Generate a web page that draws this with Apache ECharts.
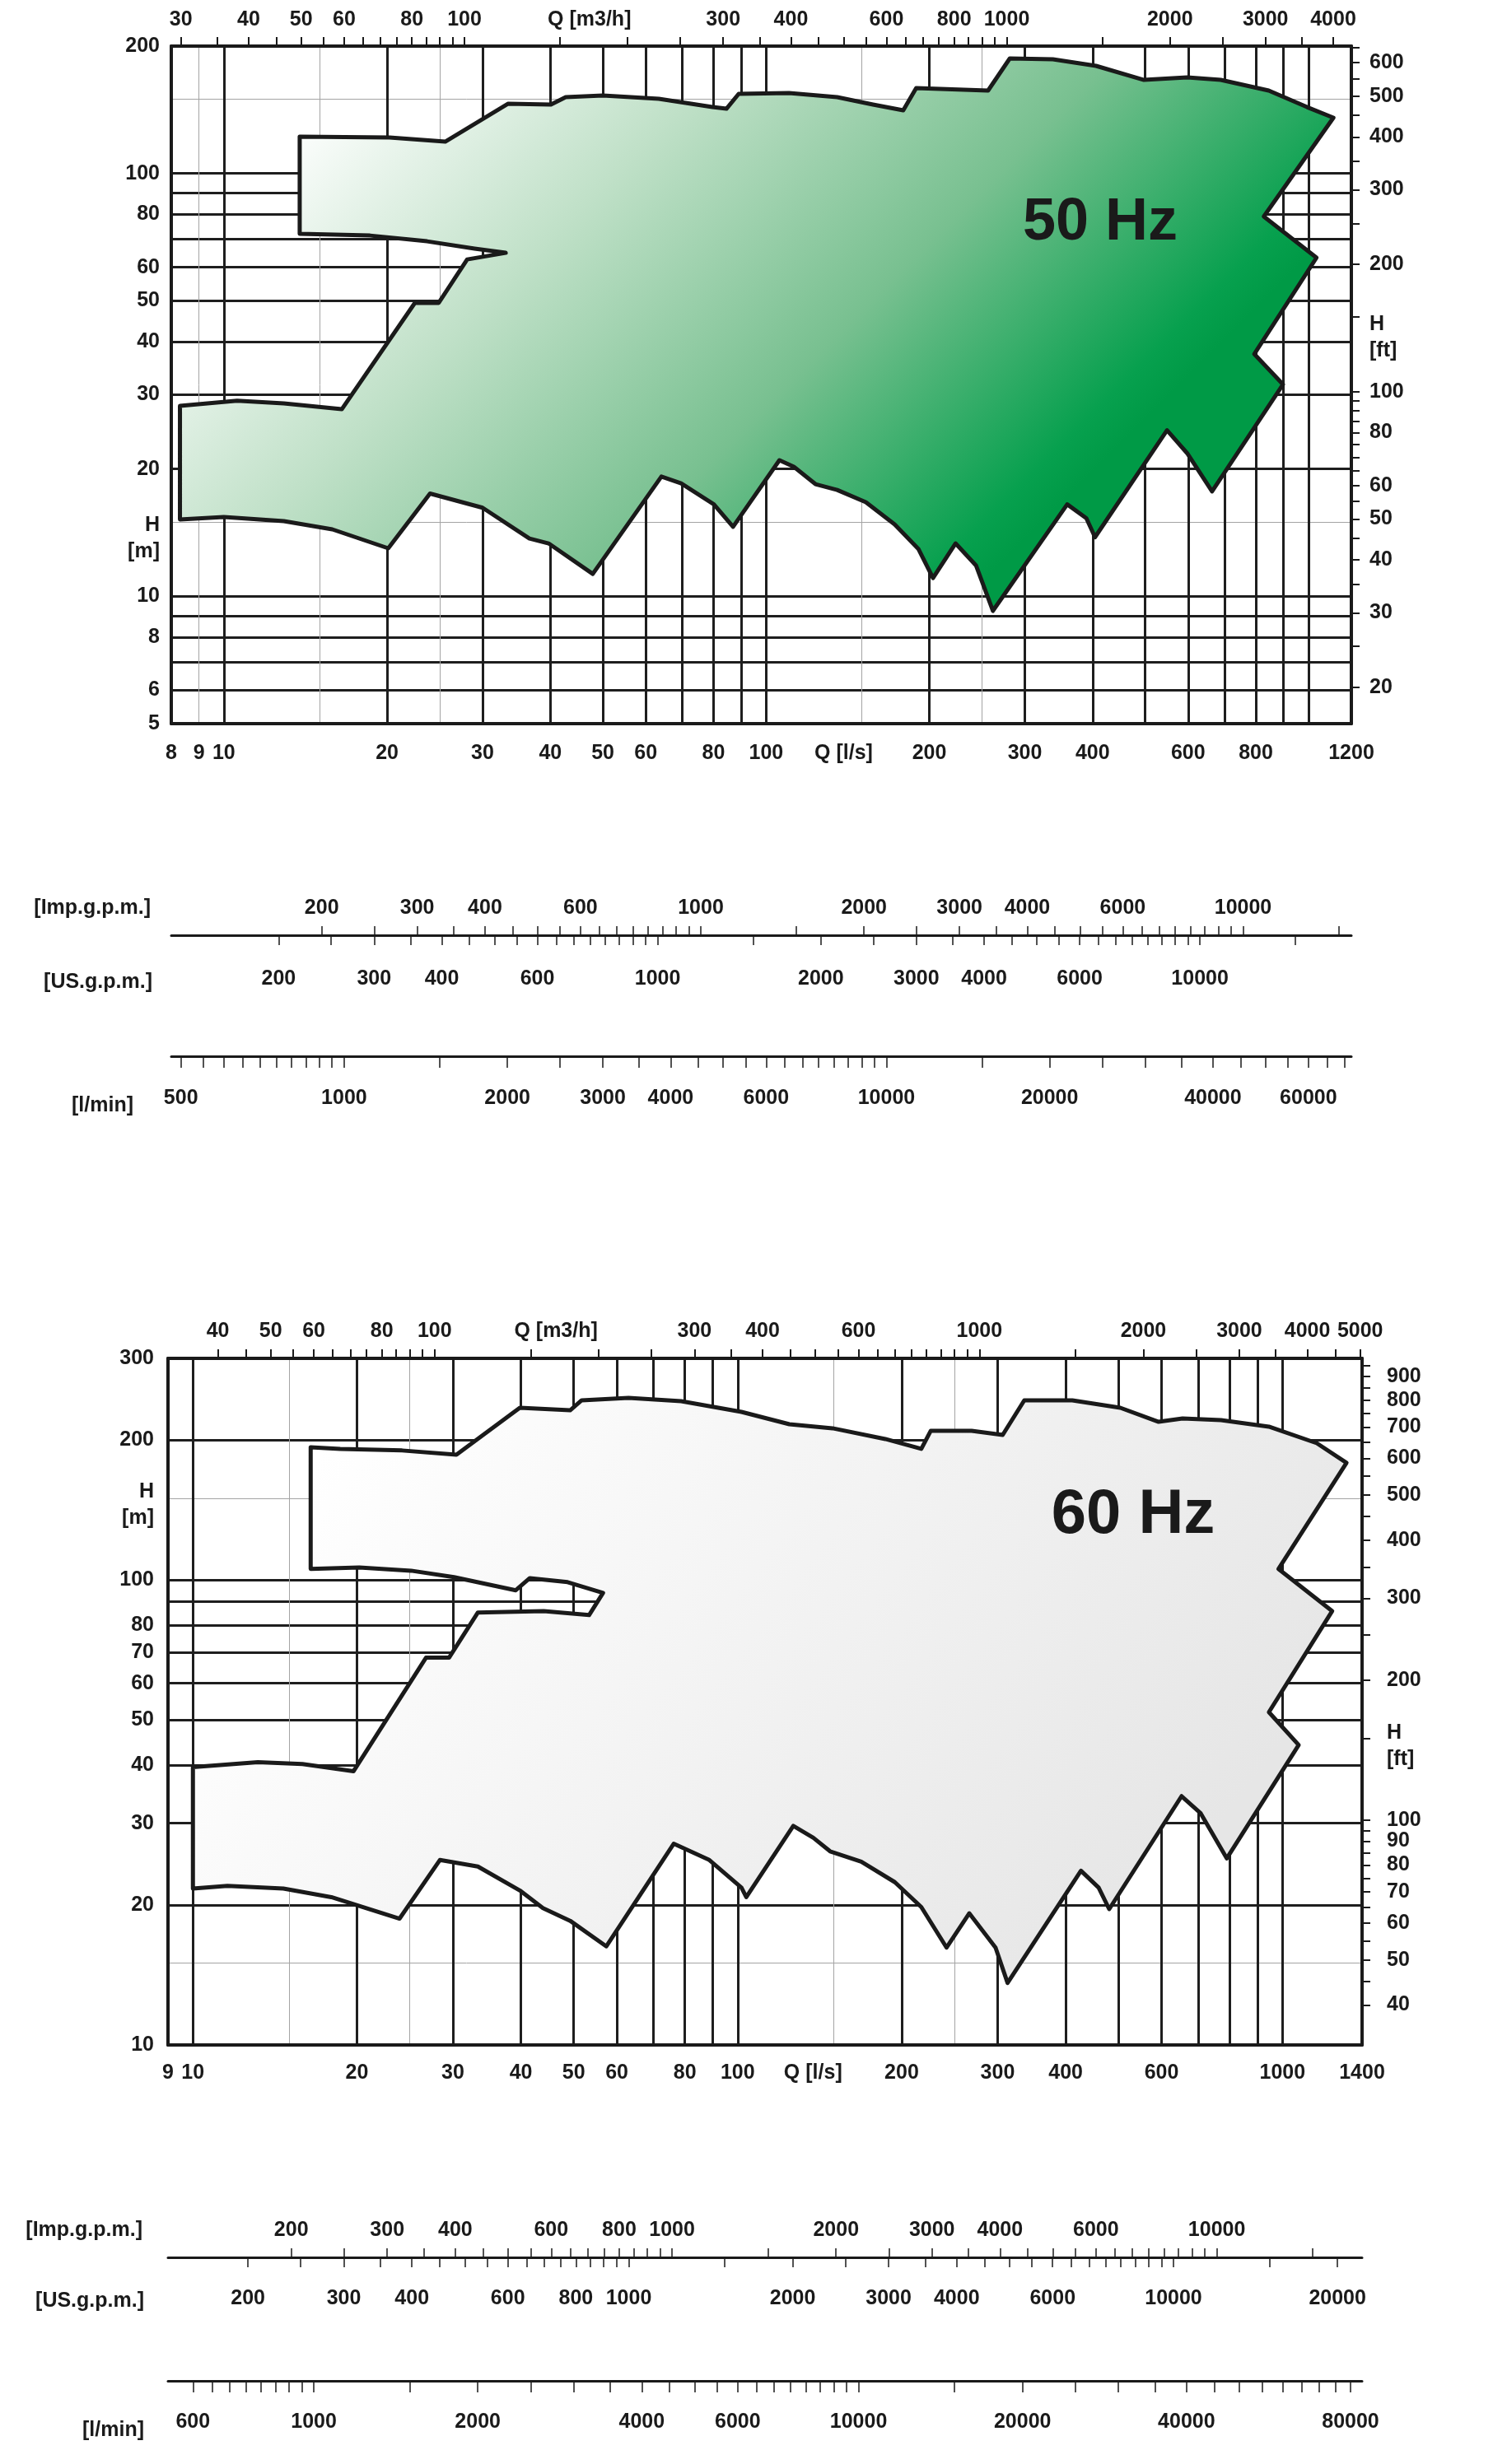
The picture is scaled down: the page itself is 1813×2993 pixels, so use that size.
<!DOCTYPE html>
<html>
<head>
<meta charset="utf-8">
<script src="https://cdn.jsdelivr.net/npm/echarts@6/dist/echarts.min.js"></script>
<style>
html, body { margin: 0; padding: 0; background: #fff; }
#main { width: 1813px; height: 2993px; }
</style>
</head>
<body>
<div id="main"></div>
<script>
var FONT = "'Liberation Sans', Arial, Helvetica, sans-serif";
var INK = '#1a1a1a';

// unit factors, all from Q [l/s] or H [m]
var M3H = 3.6, IMP = 13.198, USG = 15.850, LMIN = 60, FT = 3.2808;

// ---------- 50 Hz envelope (Q l/s, H m), clockwise from top-left corner ----------
var q50 = [13.8, 20.2, 25.6, 33.4, 40.1, 42.7, 50.0, 63.4, 79.6, 84.5, 89.0, 110.2, 135.2, 157.4, 179.0,
  189.1, 256.6, 281.4, 337.9, 405.8, 497.4, 597.5, 689.0, 844.9, 994.2, 1112,
  827.4, 1035, 794.5, 897.9, 664.2,
  597.5, 548.6, 404.1, 389.5, 359.1, 261.9, 243.9, 223.5, 203.1, 191.0, 172.6, 152.7, 135.2, 123.3, 112.5, 105.8,
  86.9, 80.1, 69.7, 64.1, 47.9, 39.7, 36.6, 30.0, 24.0, 20.1, 15.85, 12.9, 10.0, 8.3,
  8.3, 10.58, 12.9, 16.5, 22.5, 24.9, 28.1, 33.1, 29.0, 23.7, 18.6, 13.8];
var h50 = [122.2, 121.6, 118.9, 146.1, 145.5, 151.5, 152.9, 150.1, 143.5, 142.2, 154.2, 154.9, 151.5, 145.5, 141.0,
  159.1, 157.0, 187.0, 186.2, 179.6, 166.4, 168.7, 166.4, 157.0, 143.5, 135.4,
  79.1, 63.2, 37.4, 31.7, 17.7,
  21.8, 24.7, 13.8, 15.3, 16.5, 9.24, 11.82, 13.34, 11.05, 12.93, 14.79, 16.7, 17.85, 18.42, 20.24, 20.98,
  14.6, 16.5, 18.5, 19.2, 11.3, 13.34, 13.7, 16.2, 17.5, 12.99, 14.4, 15.06, 15.4, 15.2,
  28.2, 29.0, 28.6, 27.7, 49.4, 49.4, 62.6, 64.9, 66.4, 69.1, 71.3, 72.0];

// ---------- 60 Hz envelope ----------
var q60 = [16.45, 18.64, 24.21, 30.46, 39.82, 49.25, 51.71, 63.05, 78.77, 101.6, 124.4, 149.3, 186.6, 217.3, 226.2,
  268.8, 306.5, 335.8, 411.4, 503.8, 592.4, 655.6, 771.2, 944.3, 1156, 1311,
  983.1, 1234, 944.3, 1071,
  790.2, 707.9, 652.9, 480.8, 459.8, 426.7, 312.9, 297.4, 266.1, 241.8, 217.3, 194.3, 168.6, 147.8, 137.7, 126.5,
  103.7, 101.6, 88.7, 76.3, 57.4, 49.25, 43.9, 39.82, 33.35, 28.4, 23.95, 17.95, 14.66, 11.57, 10.0,
  10.0, 13.16, 15.89, 19.71, 26.78, 29.52, 33.35, 44.06, 53.36, 56.6, 48.73, 41.53, 39.14, 30.15, 25.15, 20.2, 16.45];
var h60 = [193.1, 191.6, 190.1, 186.2, 234.9, 232.0, 243.7, 246.7, 242.7, 230.1, 216.5, 212.2, 201.2, 191.6, 209.6,
  209.6, 205.3, 243.7, 243.7, 234.9, 219.1, 222.8, 221.0, 213.9, 197.1, 178.8,
  105.7, 85.8, 52.0, 44.2,
  25.2, 31.5, 34.3, 19.6, 21.8, 23.7, 13.6, 16.2, 19.2, 16.2, 19.8, 22.4, 24.8, 26.1, 27.9, 29.6,
  20.8, 21.8, 25.0, 27.1, 16.3, 18.5, 19.7, 21.5, 24.2, 25.0, 18.7, 20.8, 21.7, 22.0, 21.7,
  39.6, 40.6, 40.2, 38.8, 68.1, 68.1, 85.2, 85.8, 84.1, 93.9, 99.0, 101.0, 95.1, 101.5, 104.8, 106.5, 105.7];

// ---------- 50 Hz axes ----------
var botLabels50 = [8, 9, 10, 20, 30, 40, 50, 60, 80, 100, 139, 200, 300, 400, 600, 800, 1200];
var topLabels50 = [30, 40, 50, 60, 80, 100, 170, 300, 400, 600, 800, 1000, 2000, 3000, 4000];
var topTicks50 = [30, 35, 40, 45, 50, 55, 60, 65, 70, 75, 80, 85, 90, 95, 100, 150, 200, 250, 300, 350, 400, 450, 500,
  550, 600, 650, 700, 750, 800, 850, 900, 950, 1000, 1500, 2000, 2500, 3000, 3500, 4000];
var leftLabels50 = [5, 6, 8, 10, 13.7, 20, 30, 40, 50, 60, 80, 100, 200];
var rightLabels50 = [20, 30, 40, 50, 60, 80, 100, 134, 200, 300, 400, 500, 600];
var rightTicks50 = [20, 25, 30, 35, 40, 45, 50, 55, 60, 65, 70, 75, 80, 85, 90, 95, 100, 150, 200, 250, 300, 350, 400,
  450, 500, 550, 600, 650];
var gridXThick50 = [10, 20, 30, 40, 50, 60, 70, 80, 90, 100, 200, 300, 400, 500, 600, 700, 800, 900, 1000];
var gridXThin50 = [9, 15, 25, 150, 250];
var gridYThick50 = [6, 7, 8, 9, 10, 20, 30, 40, 50, 60, 70, 80, 90, 100];
var gridYThin50 = [15, 150];

// ---------- 60 Hz axes ----------
var botLabels60 = [9, 10, 20, 30, 40, 50, 60, 80, 100, 137.5, 200, 300, 400, 600, 1000, 1400];
var topLabels60 = [40, 50, 60, 80, 100, 167, 300, 400, 600, 1000, 2000, 3000, 4000, 5000];
var topTicks60 = [40, 45, 50, 55, 60, 65, 70, 75, 80, 85, 90, 95, 100, 150, 200, 250, 300, 350, 400, 450, 500, 550,
  600, 650, 700, 750, 800, 850, 900, 950, 1000, 1500, 2000, 2500, 3000, 3500, 4000, 4500, 5000];
var leftLabels60 = [10, 20, 30, 40, 50, 60, 70, 80, 100, 145, 200, 300];
var rightLabels60 = [40, 50, 60, 70, 80, 90, 100, 144, 200, 300, 400, 500, 600, 700, 800, 900];
var rightTicks60 = [40, 45, 50, 55, 60, 65, 70, 75, 80, 85, 90, 95, 100, 150, 200, 250, 300, 350, 400, 450, 500, 550,
  600, 650, 700, 750, 800, 850, 900, 950];
var gridXThick60 = [10, 20, 30, 40, 50, 60, 70, 80, 90, 100, 200, 300, 400, 500, 600, 700, 800, 900, 1000];
var gridXThin60 = [15, 25, 150, 250];
var gridYThick60 = [20, 30, 40, 50, 60, 70, 80, 90, 100, 200];
var gridYThin60 = [15, 150];

// ---------- flow unit scales ----------
var gpmTicks = [200, 250, 300, 350, 400, 450, 500, 550, 600, 650, 700, 750, 800, 850, 900, 950, 1000,
  1500, 2000, 2500, 3000, 3500, 4000, 4500, 5000, 5500, 6000, 6500, 7000, 7500, 8000, 8500, 9000, 9500, 10000, 15000];
var usTicks60 = gpmTicks.concat([20000]);
var impLabels50 = [200, 300, 400, 600, 1000, 2000, 3000, 4000, 6000, 10000];
var usLabels50 = [200, 300, 400, 600, 1000, 2000, 3000, 4000, 6000, 10000];
var impLabels60 = [200, 300, 400, 600, 800, 1000, 2000, 3000, 4000, 6000, 10000];
var usLabels60 = [200, 300, 400, 600, 800, 1000, 2000, 3000, 4000, 6000, 10000, 20000];
var lminTicks50 = [500, 550, 600, 650, 700, 750, 800, 850, 900, 950, 1000, 1500, 2000, 2500, 3000, 3500, 4000, 4500,
  5000, 5500, 6000, 6500, 7000, 7500, 8000, 8500, 9000, 9500, 10000, 15000, 20000, 25000, 30000, 35000, 40000,
  45000, 50000, 55000, 60000, 65000, 70000];
var lminTicks60 = [600, 650, 700, 750, 800, 850, 900, 950, 1000, 1500, 2000, 2500, 3000, 3500, 4000, 4500,
  5000, 5500, 6000, 6500, 7000, 7500, 8000, 8500, 9000, 9500, 10000, 15000, 20000, 25000, 30000, 35000, 40000,
  45000, 50000, 55000, 60000, 65000, 70000, 75000, 80000];
var lminLabels50 = [500, 1000, 2000, 3000, 4000, 6000, 10000, 20000, 40000, 60000];
var lminLabels60 = [600, 1000, 2000, 4000, 6000, 10000, 20000, 40000, 80000];

var THICK = { color: '#1e1e1e', width: 3 };
var THIN = { color: '#a4a4a4', width: 1 };

// axis names sit among the tick labels; two-line ones drawn as rich text
function nameFormatter(names) {
  names = names || [];
  return function (v) {
    for (var i = 0; i < names.length; i++) {
      if (Math.abs(v - names[i][0]) < names[i][0] * 1e-6) {
        var s = names[i][1];
        if (s.indexOf('\n') < 0) return s;
        return s.split('\n').map(function (t) { return '{n|' + t + '}'; }).join('\n');
      }
    }
    return String(Math.round(v));
  };
}

function logAxis(o) {
  return {
    type: 'log', logBase: 10, gridIndex: o.grid, position: o.pos,
    min: o.min, max: o.max, offset: 0, silent: true,
    axisLine: { show: !!o.line, onZero: false, lineStyle: { color: INK, width: o.line || 1 } },
    axisTick: { show: !!o.ticks && !o.hideTicks, customValues: o.ticks, inside: false,
      length: o.tickLen || 11, lineStyle: { color: INK, width: o.tickW || 2 } },
    axisLabel: { show: !!o.labels, customValues: o.labels, margin: o.margin || 8,
      showMinLabel: true, showMaxLabel: true, hideOverlap: false,
      formatter: nameFormatter(o.names), color: INK, fontFamily: FONT, fontWeight: 'bold',
      fontSize: 25, lineHeight: 24,
      rich: { n: { color: INK, fontFamily: FONT, fontWeight: 'bold', fontSize: 25, lineHeight: 32 } } },
    splitLine: o.split ? { show: true, lineStyle: o.split } : { show: false },
    minorTick: { show: false }, minorSplitLine: { show: false }
  };
}

var grids = [], xAxes = [], yAxes = [], series = [], texts = [];

function panel(p) {
  var g = grids.length;
  grids.push(p.main, p.gpm, p.lmin);
  var xi = xAxes.length, yi = yAxes.length;
  var qMin = p.qMin, qMax = p.qMax;
  xAxes.push(
    logAxis({ grid: g, pos: 'bottom', min: qMin, max: qMax, line: 4, labels: p.botLabels,
      names: [[p.botLabels[p.qName], 'Q [l/s]']], margin: p.botMargin }),
    logAxis({ grid: g, pos: 'top', min: qMin * M3H, max: qMax * M3H, line: 4, ticks: p.topTicks,
      labels: p.topLabels, names: [[p.topLabels[p.m3Name], 'Q [m3/h]']], margin: p.topMargin }),
    logAxis({ grid: g, pos: 'bottom', min: qMin, max: qMax, ticks: p.gridXThick, hideTicks: true, split: THICK }),
    logAxis({ grid: g, pos: 'bottom', min: qMin, max: qMax, ticks: p.gridXThin, hideTicks: true, split: THIN }),
    logAxis({ grid: g + 1, pos: 'top', min: qMin * IMP, max: qMax * IMP, line: 3, ticks: gpmTicks,
      tickW: 1.5, labels: p.impLabels, margin: p.impMargin }),
    logAxis({ grid: g + 1, pos: 'bottom', min: qMin * USG, max: qMax * USG, ticks: p.usTicks,
      tickW: 1.5, labels: p.usLabels, margin: p.usMargin }),
    logAxis({ grid: g + 2, pos: 'bottom', min: qMin * LMIN, max: qMax * LMIN, line: 3, ticks: p.lminTicks,
      tickW: 1.5, tickLen: 14, labels: p.lminLabels, margin: p.lminMargin })
  );
  yAxes.push(
    logAxis({ grid: g, pos: 'left', min: p.hMin, max: p.hMax, line: 4, labels: p.leftLabels,
      names: [[p.leftLabels[p.hName], 'H\n[m]']], margin: p.leftMargin }),
    logAxis({ grid: g, pos: 'right', min: p.hMin * FT, max: p.hMax * FT, line: 4, ticks: p.rightTicks,
      tickLen: 10, labels: p.rightLabels, names: [[p.rightLabels[p.ftName], 'H\n[ft]']], margin: p.rightMargin }),
    logAxis({ grid: g, pos: 'left', min: p.hMin, max: p.hMax, ticks: p.gridYThick, hideTicks: true, split: THICK }),
    logAxis({ grid: g, pos: 'left', min: p.hMin, max: p.hMax, ticks: p.gridYThin, hideTicks: true, split: THIN }),
    { type: 'value', gridIndex: g + 1, show: false },
    { type: 'value', gridIndex: g + 2, show: false }
  );
  var q = p.q, h = p.h, fill = p.fill;
  series.push({
    type: 'custom', coordinateSystem: 'cartesian2d', xAxisIndex: xi, yAxisIndex: yi,
    data: q.map(function (v, i) { return [v, h[i]]; }),
    encode: { x: 0, y: 1 }, z: 5, silent: true,
    renderItem: function (params, api) {
      if (params.dataIndex !== 0) return null;
      var pts = q.map(function (v, i) { return api.coord([v, h[i]]); });
      return { type: 'polygon', shape: { points: pts },
        style: { fill: fill, stroke: INK, lineWidth: 5, lineJoin: 'round' } };
    }
  });
}

panel({
  main: { left: 208, top: 56, width: 1433, height: 823 },
  gpm: { left: 208, top: 1136, width: 1433, height: 1 },
  lmin: { left: 208, top: 1282, width: 1433, height: 1 },
  qMin: 8, qMax: 1200, hMin: 5, hMax: 200,
  q: q50, h: h50,
  fill: new echarts.graphic.LinearGradient(350, 150, 1050, 850, [
    { offset: 0, color: '#ffffff' }, { offset: 0.33, color: '#bfe0c7' },
    { offset: 0.66, color: '#78c090' }, { offset: 0.95, color: '#07a04e' }, { offset: 1, color: '#009a46' }], true),
  botLabels: botLabels50, qName: 10, botMargin: 24,
  topLabels: topLabels50, m3Name: 6, topTicks: topTicks50, topMargin: 20,
  leftLabels: leftLabels50, hName: 4, leftMargin: 14,
  rightLabels: rightLabels50, ftName: 7, rightTicks: rightTicks50, rightMargin: 22,
  gridXThick: gridXThick50, gridXThin: gridXThin50, gridYThick: gridYThick50, gridYThin: gridYThin50,
  impLabels: impLabels50, impMargin: 21, usTicks: gpmTicks, usLabels: usLabels50, usMargin: 40,
  lminTicks: lminTicks50, lminLabels: lminLabels50, lminMargin: 39
});

panel({
  main: { left: 204, top: 1650, width: 1450, height: 834 },
  gpm: { left: 204, top: 2742, width: 1450, height: 1 },
  lmin: { left: 204, top: 2891, width: 1450, height: 1 },
  qMin: 9, qMax: 1400, hMin: 10, hMax: 300,
  q: q60, h: h60,
  fill: new echarts.graphic.LinearGradient(400, 1750, 1300, 2450, [
    { offset: 0, color: '#ffffff' }, { offset: 1, color: '#e6e6e6' }], true),
  botLabels: botLabels60, qName: 9, botMargin: 22,
  topLabels: topLabels60, m3Name: 5, topTicks: topTicks60, topMargin: 21,
  leftLabels: leftLabels60, hName: 9, leftMargin: 17,
  rightLabels: rightLabels60, ftName: 7, rightTicks: rightTicks60, rightMargin: 30,
  gridXThick: gridXThick60, gridXThin: gridXThin60, gridYThick: gridYThick60, gridYThin: gridYThin60,
  impLabels: impLabels60, impMargin: 21, usTicks: usTicks60, usLabels: usLabels60, usMargin: 37,
  lminTicks: lminTicks60, lminLabels: lminLabels60, lminMargin: 38
});

function txt(s, x, y, size, align) {
  return { type: 'text', x: x, y: y, z: 100, silent: true,
    style: { text: s, fill: INK, fontFamily: FONT, fontWeight: 'bold', fontSize: size,
      align: align, verticalAlign: 'middle', textAlign: align, textVerticalAlign: 'middle' } };
}
texts.push(
  txt('50 Hz', 1336, 271, 72, 'center'),
  txt('60 Hz', 1376, 1841, 76, 'center'),
  txt('[Imp.g.p.m.]', 183, 1103, 25, 'right'),
  txt('[US.g.p.m.]', 185, 1193, 25, 'right'),
  txt('[l/min]', 162, 1343, 25, 'right'),
  txt('[Imp.g.p.m.]', 173, 2709, 25, 'right'),
  txt('[US.g.p.m.]', 175, 2795, 25, 'right'),
  txt('[l/min]', 175, 2952, 25, 'right')
);

grids.forEach(function (g) { g.outerBoundsMode = 'none'; g.containLabel = false; });

var chart = echarts.init(document.getElementById('main'), null, { renderer: 'canvas' });
chart.setOption({
  animation: false,
  backgroundColor: '#ffffff',
  grid: grids,
  xAxis: xAxes,
  yAxis: yAxes,
  series: series,
  graphic: { elements: texts }
});
</script>
</body>
</html>
